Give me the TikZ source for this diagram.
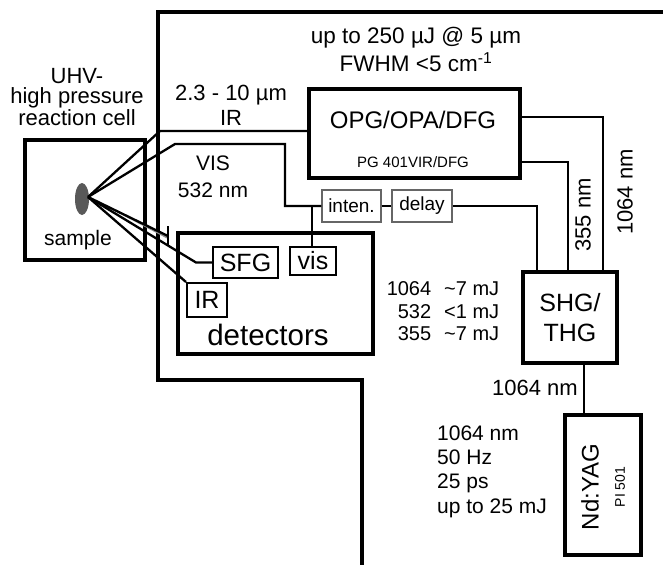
\documentclass[tikz,border=0pt]{standalone}
\usepackage{fontspec}
\setmainfont{Liberation Sans}
\usetikzlibrary{shapes.geometric}
\begin{document}
\begin{tikzpicture}[x=1pt,y=-1pt,
  frameline/.style={line width=4pt},
  bigbox/.style={draw, line width=3.8pt, inner sep=0pt},
  smallbox/.style={draw, line width=2pt, inner sep=0pt, font=\fontsize{25}{28}\selectfont},
  thinbox/.style={draw=black!60, line width=1.3pt, inner sep=0pt, font=\fontsize{19}{22}\selectfont},
  beam/.style={line width=2.3pt},
  lbl/.style={inner sep=0pt, align=center, font=\fontsize{21}{25}\selectfont}]
\useasboundingbox (0,0) rectangle (663,565);
% outer enclosure
\draw[frameline] (663,12) -- (158,12) -- (158,380) -- (362,380) -- (362,565);
% boxes
\node[bigbox, minimum width=120pt, minimum height=120pt] (cell) at (85,200) {};
\node[ellipse, fill=black!65, minimum width=14pt, minimum height=32pt, inner sep=0pt] (smp) at (82,199) {};
\node[bigbox, minimum width=211pt, minimum height=89pt] (opg) at (414.5,133.5) {};
\node[thinbox, minimum width=59pt, minimum height=32pt] (inten) at (351.5,206) {inten.};
\node[thinbox, minimum width=60pt, minimum height=32pt] (delay) at (422,206) {delay};
\node[bigbox, minimum width=195pt, minimum height=121pt] (det) at (275.5,293.5) {};
\node[smallbox, minimum width=65pt, minimum height=31pt] (sfg) at (245.5,262.5) {SFG};
\node[smallbox, minimum width=46pt, minimum height=28pt] (vis) at (313,260.5) {vis};
\node[smallbox, minimum width=40pt, minimum height=34pt] (irb) at (207,300) {IR};
\node[bigbox, minimum width=94pt, minimum height=91pt, align=center, font=\fontsize{25}{30}\selectfont] (shg) at (570,317.5) {SHG/\\THG};
\node[bigbox, minimum width=76pt, minimum height=140pt] (yag) at (603,485) {};
% texts
\node[lbl, font=\fontsize{22}{20}\selectfont] (tuhv) at (77,97) {UHV-\\high pressure\\reaction cell};
\node[lbl] (tsample) at (78,240) {sample};
\node[lbl, font=\fontsize{22}{25}\selectfont] (tir) at (231,105) {2.3 - 10 µm\\IR};
\node[lbl, font=\fontsize{21}{27}\selectfont] (tvis) at (213,177) {VIS\\532 nm};
\node[lbl, font=\fontsize{22.5}{28}\selectfont] (tup) at (416,49) {up to 250 µJ @ 5 µm\\FWHM <5 cm\textsuperscript{-1}};
\node[lbl, font=\fontsize{24}{28}\selectfont] (topg) at (413,120) {OPG/OPA/DFG};
\node[lbl, font=\fontsize{15}{18}\selectfont] (tpg) at (413,162) {PG 401VIR/DFG};
\node[lbl, rotate=90, font=\fontsize{22}{25}\selectfont] (t355) at (583,215) {355 nm};
\node[lbl, rotate=90, font=\fontsize{22}{25}\selectfont] (t1064r) at (625,192) {1064 nm};
\node[lbl, font=\fontsize{20}{22.5}\selectfont] (tenergy) at (443,313.5) {%
  \begin{tabular}{@{}r@{\hspace{13pt}}l@{}}1064 & \textasciitilde7 mJ\\ 532 & <1 mJ\\ 355 & \textasciitilde7 mJ\end{tabular}};
\node[lbl, font=\fontsize{22}{25}\selectfont] (t1064b) at (535,388) {1064 nm};
\node[lbl, align=left, anchor=west, font=\fontsize{21}{24.3}\selectfont] (tlaser) at (437,471.5) {1064 nm\\50 Hz\\25 ps\\up to 25 mJ};
\node[lbl, rotate=90, font=\fontsize{24}{28}\selectfont] (tyag) at (590,487) {Nd:YAG};
\node[lbl, rotate=90, font=\fontsize{14}{16}\selectfont] (tpi) at (620,487) {PI 501};
\node[lbl, font=\fontsize{29.5}{32}\selectfont] (tdet) at (268,335) {detectors};
% coordinates
\coordinate (s0) at (88,197);
\coordinate (irk) at (160,131);
\coordinate (visk) at (175,144);
\coordinate (visc) at (285,144);
\coordinate (visd) at (285,206);
\coordinate (vbr) at (312,206);
\coordinate (dl) at (537,206);
\coordinate (o1) at (603,117);
\coordinate (o2) at (568,162);
\coordinate (yl) at (584,0);
\coordinate (sfgk) at (196,262.5);
\coordinate (tk) at (168,236);
\coordinate (tka) at (168,226);
\coordinate (tkb) at (168,245);
% beams
\draw[beam] (s0) -- (irk) -- (opg.west |- irk);
\draw[beam] (s0) -- (visk) -- (visc) -- (visd) -- (inten.west);
\draw[beam] (vbr) -- (vbr |- vis.north);
\draw[beam] (inten.east) -- (delay.west);
\draw[beam] (delay.east) -- (dl) -- (dl |- shg.north);
\draw[beam] (opg.east |- o1) -- (o1) -- (o1 |- shg.north);
\draw[beam] (opg.east |- o2) -- (o2) -- (o2 |- shg.north);
\draw[beam] (shg.south -| yl) -- (yag.north -| yl);
\fill[black!45] (s0) -- (tk) -- ([yshift=-3pt]tk) -- cycle;
\draw[beam] (s0) -- (tk);
\draw[beam] (tka) -- (tkb);
\draw[beam] (s0) -- (sfgk) -- (sfg.west);
\draw[beam] (s0) -- (irb.north west);
\end{tikzpicture}
\end{document}
